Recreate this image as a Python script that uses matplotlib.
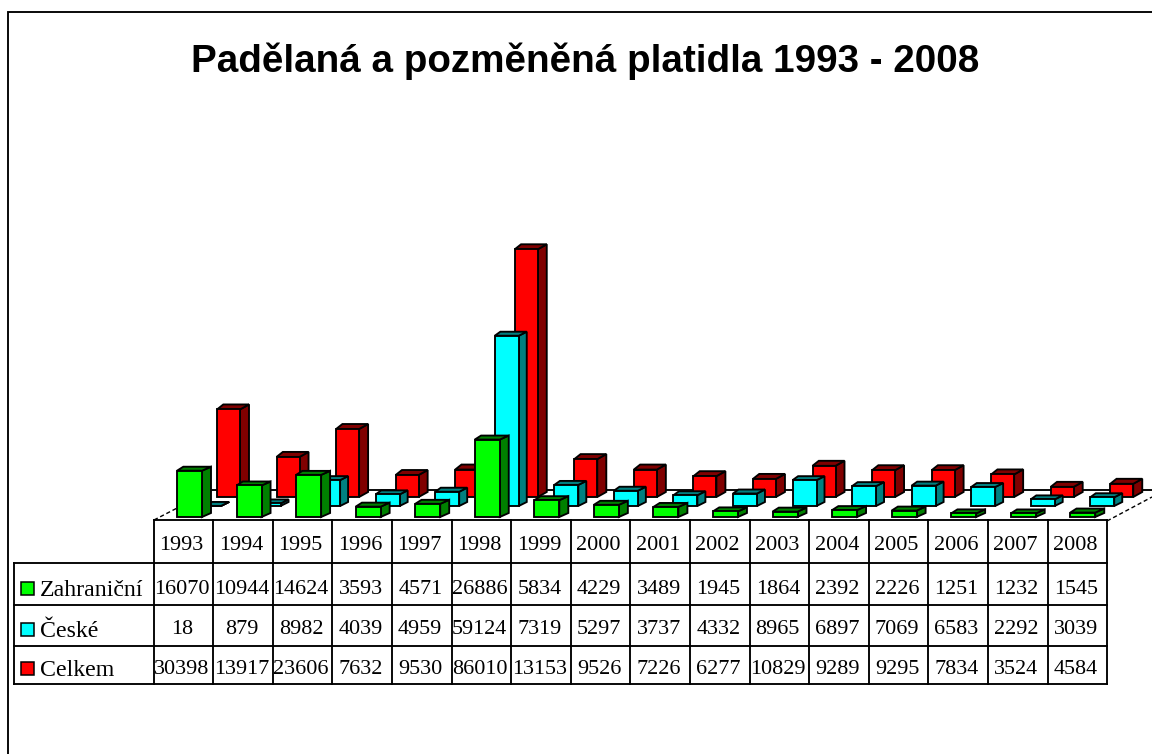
import matplotlib
matplotlib.use("Agg")
import matplotlib.pyplot as plt
from matplotlib.patches import Polygon, Rectangle

years = ["1993", "1994", "1995", "1996", "1997", "1998", "1999", "2000",
         "2001", "2002", "2003", "2004", "2005", "2006", "2007", "2008"]
series_names = ["Zahraniční", "České", "Celkem"]
zahranicni = [16070, 10944, 14624, 3593, 4571, 26886, 5834, 4229,
              3489, 1945, 1864, 2392, 2226, 1251, 1232, 1545]
ceske = [18, 879, 8982, 4039, 4959, 59124, 7319, 5297,
         3737, 4332, 8965, 6897, 7069, 6583, 2292, 3039]
celkem = [30398, 13917, 23606, 7632, 9530, 86010, 13153, 9526,
          7226, 6277, 10829, 9289, 9295, 7834, 3524, 4584]
title = "Padělaná a pozměněná platidla 1993 - 2008"

W, H = 1152, 754
fig = plt.figure(figsize=(W / 100, H / 100), dpi=100, facecolor="white")

# page layer: frame, floor and table, in pixels
page = fig.add_axes([0, 0, 1, 1], zorder=1)
page.set_xlim(0, W)
page.set_ylim(H, 0)
page.axis("off")

LW = 1.35
page.plot([8, 8, W], [H, 12, 12], color="black", lw=LW, solid_joinstyle="miter")
page.text(585.5, 61, title, family="Liberation Sans", weight="bold", fontsize=27.8,
          ha="center", va="center", color="black")

# floor
page.add_patch(Polygon([(154, 520), (212, 490), (W, 490), (W, 497), (1107, 520)],
                       closed=True, fc="white", ec="none"))
page.plot([154, 212], [520, 490], color="black", lw=1.0, ls=(0, (3, 2)))
page.plot([1107, W], [521, 497], color="black", lw=1.0, ls=(0, (3, 2)))
page.plot([212, W], [490, 490], color="black", lw=LW)

# table
col0, colw = 153.5, 59.6
cols = [col0 + colw * i for i in range(len(years) + 1)]
rows = [520, 563, 605, 646, 684]
left = 14
for i, x in enumerate(cols):
    page.plot([x, x], [rows[0], rows[-1]], color="black", lw=LW)
page.plot([cols[0], cols[-1]], [rows[0], rows[0]], color="black", lw=LW)
for y in rows[1:]:
    page.plot([left, cols[-1]], [y, y], color="black", lw=LW)
page.plot([left, left], [rows[1], rows[-1]], color="black", lw=LW)

TF = dict(family="Liberation Serif", fontsize=15.9, color="black", va="center", ha="center")
for i, yr in enumerate(years):
    page.text((cols[i] + cols[i + 1]) / 2 - 2, 545, yr, **TF)

front = ["#00FF00", "#00FFFF", "#FF0000"]
dark = ["#008000", "#008080", "#800000"]
table_rows = [zahranicni, ceske, celkem]
row_y = [589, 630, 670]
swatch_y = [588, 629, 668]
for name, vals, y, sy, c in zip(series_names, table_rows, row_y, swatch_y, front):
    page.add_patch(Rectangle((21, sy - 6.5), 13, 13, fc=c, ec="black", lw=1.1))
    page.text(40, sy + 2.5, name, family="Liberation Serif", fontsize=17.2,
              color="black", va="center", ha="left")
    for i, v in enumerate(vals):
        page.text((cols[i] + cols[i + 1]) / 2 - 1.5, y, str(v), **TF)

# chart layer: x in category index, y in counted banknotes
ax = fig.add_axes([0, 0, 1, 1], zorder=2)
ax.patch.set_alpha(0)
ax.axis("off")
px_x = 59.55            # pixels per category
px_y = 0.00288          # pixels per unit
x0_px, y0_px = 177, 517  # left edge of first front bar, floor of front row
ax.set_xlim(-x0_px / px_x, (W - x0_px) / px_x)
ax.set_ylim(-(H - y0_px) / px_y, y0_px / px_y)

# per-series depth: shift right / up on the floor, front width, extrusion
shift_x = [0, 20, 40]
shift_y = [0, 11, 20]
widths = [25, 24, 23]
ext_x = [9, 8, 9]
ext_y = [4, 4, 5]

for s in [2, 1, 0]:  # back to front
    vals = table_rows[s]
    sx = shift_x[s] / px_x
    base = shift_y[s] / px_y
    w = widths[s] / px_x
    dx = ext_x[s] / px_x
    dy = ext_y[s] / px_y
    for i, v in enumerate(vals):
        l = i + sx
        r = l + w
        t = base + v
        z = 3 + (2 - s) * 3
        ax.add_patch(Polygon([(r, base), (r + dx, base + dy), (r + dx, t + dy), (r, t)],
                             closed=True, fc=dark[s], ec="black", lw=LW, zorder=z + i * 0.01))
        ax.add_patch(Polygon([(l, t), (l + dx * 0.7, t + dy), (r + dx, t + dy), (r, t)],
                             closed=True, fc=dark[s], ec="black", lw=LW, zorder=z + i * 0.01))
    ax.bar([i + sx for i in range(len(vals))], vals, width=w, bottom=base, align="edge",
           color=front[s], edgecolor="black", linewidth=LW, zorder=z + 0.5)

fig.savefig("out.png", dpi=100)
